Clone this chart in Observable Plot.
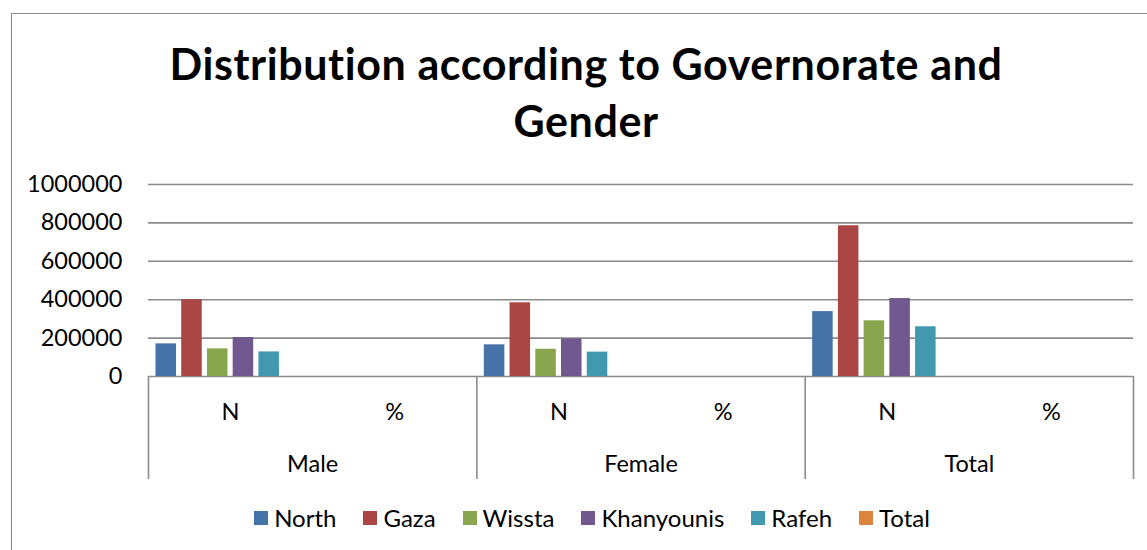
<!DOCTYPE html>
<html>
<head>
<meta charset="utf-8">
<script src="https://cdn.jsdelivr.net/npm/d3@7"></script>
<script src="https://cdn.jsdelivr.net/npm/@observablehq/plot@0.6"></script>
<style>
  html, body { margin: 0; padding: 0; background: #fff; }
  #wrap { position: relative; width: 1147px; height: 550px; overflow: hidden; font-family: Lato, "Open Sans", sans-serif; }
  #border { position: absolute; left: 11px; top: 13px; width: 1300px; height: 700px; border: 1.5px solid #8a8a8a; box-sizing: border-box; }
  #title { position: absolute; left: 0; top: 35px; width: 1172px; text-align: center; font-weight: bold; font-size: 43px; letter-spacing: 0.6px; font-variant-ligatures: none; line-height: 57px; color: #000; }
  #chart { position: absolute; left: 0; top: 0; }
  #legend { position: absolute; left: 0; top: 503px; width: 1184px; display: flex; justify-content: center; gap: 27px; font-size: 24px; color: #000; }
  #legend .item { display: flex; align-items: center; }
  #legend .sw { width: 14px; height: 14px; margin-right: 6px; }
</style>
</head>
<body>
<div id="wrap">
  <div id="border"></div>
  <div id="title">Distribution according to Governorate and<br>Gender</div>
  <div id="chart"></div>
  <div id="legend"></div>
</div>
<script>
// ---- data ----
const groups = ["Male", "Female", "Total"];
const measures = ["N", "%"];
const series = ["North", "Gaza", "Wissta", "Khanyounis", "Rafeh", "Total"];
const colors = ["#4572A7", "#AA4643", "#89A54E", "#71588F", "#4198AF", "#DB843D"];
const yTicks = [0, 200000, 400000, 600000, 800000, 1000000];

// values per series: North, Gaza, Wissta, Khanyounis, Rafeh, Total
const maleN     = [170000, 400000, 144000, 203000, 128000, null];
const malePct   = [16.3, 38.3, 13.8, 19.4, 12.2, 100];
const femaleN   = [165000, 384000, 142000, 196000, 127000, null];
const femalePct = [16.3, 38.0, 14.1, 19.4, 12.6, 100];
const totalN    = [338000, 785000, 290000, 406000, 259000, null];
const totalPct  = [16.3, 37.9, 14.0, 19.6, 12.5, 100];

const valuesByCat = [maleN, malePct, femaleN, femalePct, totalN, totalPct];

// ---- build table ----
const nS = series.length;
const step = 1 / (nS + 0.38);          // share of a category taken by one bar slot
const start = (1 - nS * step) / 2;     // gap before the cluster
const rows = [];
valuesByCat.forEach((vals, c) => {
  vals.forEach((v, i) => {
    if (v == null) return;
    rows.push({cat: c, series: series[i], value: v,
               x1: c + start + i * step, x2: c + start + (i + 1) * step});
  });
});
const catLabels = [];
groups.forEach((g, gi) => measures.forEach((m, mi) => catLabels.push({x: gi * 2 + mi + 0.5, label: m})));
const groupLabels = groups.map((g, gi) => ({x: gi * 2 + 1, label: g}));
const separators = d3.range(0, groups.length * measures.length + 1, measures.length);

const gray = "#8c8c8c";
const chart = Plot.plot({
  width: 1147,
  height: 550,
  marginTop: 184,
  marginBottom: 174,
  marginLeft: 148,
  marginRight: 14,
  style: {fontFamily: "Lato, 'Open Sans', sans-serif", fontSize: "23.5px", color: "#000", background: "transparent", overflow: "visible"},
  x: {type: "linear", domain: [0, groups.length * measures.length], axis: null},
  y: {domain: [0, 1000000], ticks: yTicks, tickFormat: d => String(d), tickSize: 0, tickPadding: 26, label: null},
  color: {domain: series, range: colors},
  marks: [
    Plot.ruleY(yTicks, {stroke: gray, strokeWidth: 1.6}),
    Plot.rectY(rows, {x1: "x1", x2: "x2", y: "value", fill: "series", insetLeft: 2.6, insetRight: 2.6}),
    Plot.ruleX(separators, {stroke: gray, strokeWidth: 1.6, insetTop: 192, insetBottom: -103}),
    Plot.text(catLabels, {x: "x", text: "label", frameAnchor: "bottom", lineAnchor: "bottom", dy: 43, fill: "#000", fontSize: 23.5}),
    Plot.text(groupLabels, {x: "x", text: "label", frameAnchor: "bottom", lineAnchor: "bottom", dy: 95, fill: "#000", fontSize: 23.5})
  ]
});
document.getElementById("chart").appendChild(chart);

// ---- legend ----
const legend = document.getElementById("legend");
series.forEach((s, i) => {
  const item = document.createElement("div");
  item.className = "item";
  const sw = document.createElement("span");
  sw.className = "sw";
  sw.style.background = colors[i];
  const t = document.createElement("span");
  t.textContent = s;
  item.appendChild(sw);
  item.appendChild(t);
  legend.appendChild(item);
});
</script>
</body>
</html>
